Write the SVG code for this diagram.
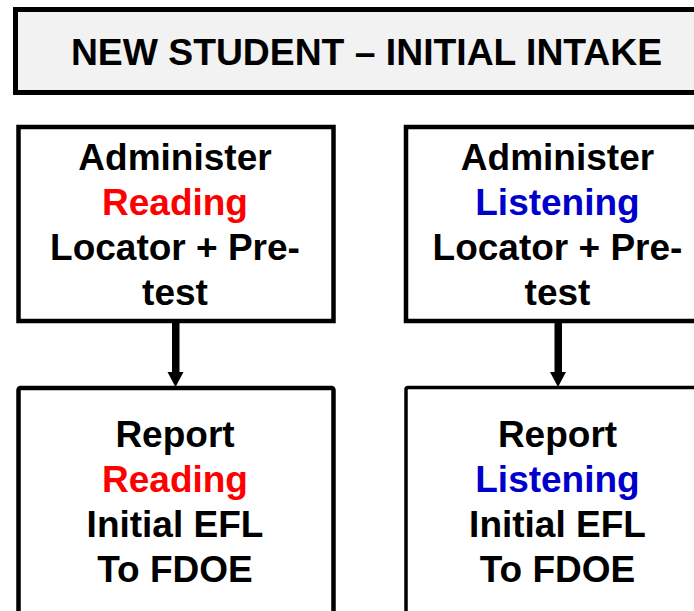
<svg xmlns="http://www.w3.org/2000/svg" width="694" height="611" viewBox="0 0 694 611">
<style>
.box{fill:#fff;stroke:#000;stroke-width:4.5}
.t{font-family:"Liberation Sans",Arial,sans-serif;font-weight:bold;font-size:37px;text-anchor:middle;fill:#000}
.red{fill:#FF0000}
.blue{fill:#0000CC}
</style>
<rect width="694" height="611" fill="#fff"/>
<g id="title">
<rect x="15.5" y="9.5" width="700" height="83" fill="#F2F2F2" stroke="#000" stroke-width="5"/>
<text class="t" x="366.5" y="65" style="font-size:37.3px">NEW STUDENT – INITIAL INTAKE</text>
</g>
<g id="admin-reading">
<rect class="box" x="18.5" y="127" width="315" height="194"/>
<text class="t" x="175" y="170">Administer</text>
<text class="t red" x="175" y="215">Reading</text>
<text class="t" x="175" y="260">Locator + Pre-</text>
<text class="t" x="175" y="305">test</text>
</g>
<g id="admin-listening">
<rect class="box" x="406" y="127" width="315" height="194"/>
<text class="t" x="557.5" y="170">Administer</text>
<text class="t blue" x="557.5" y="215">Listening</text>
<text class="t" x="557.5" y="260">Locator + Pre-</text>
<text class="t" x="557.5" y="305">test</text>
</g>
<g id="report-reading">
<rect class="box" x="18.5" y="388" width="315" height="240" rx="2"/>
<text class="t" x="175" y="447">Report</text>
<text class="t red" x="175" y="492">Reading</text>
<text class="t" x="175" y="537">Initial EFL</text>
<text class="t" x="175" y="582">To FDOE</text>
</g>
<g id="report-listening">
<rect class="box" x="406" y="387.5" width="315" height="240" rx="2" style="stroke-width:3.5"/>
<text class="t" x="557.5" y="447">Report</text>
<text class="t blue" x="557.5" y="492">Listening</text>
<text class="t" x="557.5" y="537">Initial EFL</text>
<text class="t" x="557.5" y="582">To FDOE</text>
</g>
<g id="connectors">
<g fill="#000">
<rect x="172" y="322" width="7.5" height="53"/>
<path d="M167.5,372 L183.5,372 L175.5,387 Z"/>
<rect x="554.5" y="322" width="7.5" height="53"/>
<path d="M550,372 L566,372 L558,387 Z"/>
</g>
</g>
</svg>
